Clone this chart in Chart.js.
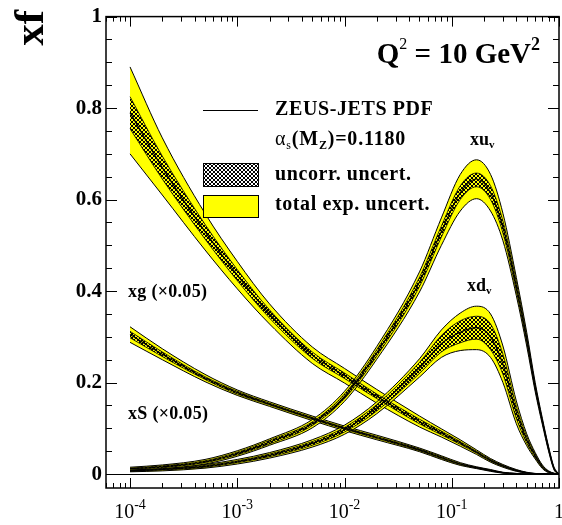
<!DOCTYPE html>
<html><head><meta charset="utf-8">
<script src="https://cdn.jsdelivr.net/npm/chart.js@4"></script>
<style>html,body{margin:0;padding:0;background:#fff;} canvas{display:block}</style>
</head><body>
<canvas id="c" width="562" height="525"></canvas>
<script>
// ---- data ----
const xValues = [1e-4, 2e-4, 5e-4, 1e-3, 2e-3, 5e-3, 0.01, 0.02, 0.05, 0.08, 0.12, 0.17, 0.23, 0.3, 0.4, 0.5, 0.6, 0.7, 0.8, 0.9, 1.0];

const xuvCentral = [0.012, 0.016, 0.027, 0.045, 0.07, 0.11, 0.17, 0.265, 0.42, 0.53, 0.615, 0.645, 0.615, 0.54, 0.41, 0.295, 0.19, 0.115, 0.055, 0.012, 0];
const xuvTotUp   = [0.015, 0.02, 0.032, 0.051, 0.077, 0.119, 0.181, 0.279, 0.442, 0.56, 0.655, 0.687, 0.655, 0.57, 0.43, 0.31, 0.2, 0.122, 0.06, 0.015, 0];
const xuvTotLo   = [0.009, 0.012, 0.022, 0.039, 0.063, 0.101, 0.159, 0.251, 0.398, 0.50, 0.575, 0.602, 0.575, 0.51, 0.39, 0.28, 0.18, 0.108, 0.05, 0.009, 0];
const xuvUncUp   = [0.013, 0.018, 0.029, 0.048, 0.074, 0.114, 0.175, 0.272, 0.43, 0.542, 0.63, 0.658, 0.63, 0.553, 0.42, 0.302, 0.195, 0.118, 0.058, 0.013, 0];
const xuvUncLo   = [0.011, 0.014, 0.025, 0.042, 0.066, 0.106, 0.165, 0.258, 0.41, 0.518, 0.6, 0.628, 0.6, 0.527, 0.4, 0.288, 0.185, 0.112, 0.052, 0.011, 0];

const xdvCentral = [0.007, 0.01, 0.017, 0.027, 0.041, 0.067, 0.097, 0.145, 0.232, 0.285, 0.31, 0.32, 0.30, 0.24, 0.135, 0.075, 0.04, 0.016, 0.005, 0.001, 0];
const xdvTotUp   = [0.009, 0.013, 0.021, 0.032, 0.047, 0.075, 0.107, 0.158, 0.252, 0.315, 0.352, 0.367, 0.35, 0.28, 0.16, 0.088, 0.047, 0.02, 0.007, 0.002, 0];
const xdvTotLo   = [0.005, 0.007, 0.013, 0.022, 0.035, 0.059, 0.087, 0.132, 0.212, 0.255, 0.27, 0.272, 0.255, 0.2, 0.11, 0.062, 0.033, 0.012, 0.003, 0, 0];
const xdvUncUp   = [0.008, 0.011, 0.019, 0.029, 0.044, 0.071, 0.102, 0.152, 0.244, 0.303, 0.335, 0.345, 0.328, 0.262, 0.148, 0.082, 0.044, 0.018, 0.006, 0.0015, 0];
const xdvUncLo   = [0.006, 0.009, 0.015, 0.025, 0.038, 0.063, 0.092, 0.138, 0.22, 0.267, 0.287, 0.295, 0.272, 0.218, 0.122, 0.068, 0.036, 0.014, 0.004, 0.0005, 0];

const xgCentral  = [0.79, 0.67, 0.53, 0.435, 0.35, 0.26, 0.215, 0.17, 0.115, 0.09, 0.068, 0.048, 0.03, 0.018, 0.008, 0.003, 0.001, 0, 0, 0, 0];
const xgTotUp    = [0.89, 0.735, 0.57, 0.465, 0.372, 0.278, 0.231, 0.185, 0.127, 0.099, 0.075, 0.053, 0.034, 0.021, 0.01, 0.004, 0.0015, 0, 0, 0, 0];
const xgTotLo    = [0.70, 0.61, 0.49, 0.405, 0.328, 0.242, 0.199, 0.155, 0.103, 0.081, 0.061, 0.043, 0.026, 0.015, 0.006, 0.002, 0.0005, 0, 0, 0, 0];
const xgUncUp    = [0.825, 0.695, 0.546, 0.447, 0.359, 0.267, 0.221, 0.175, 0.12, 0.094, 0.071, 0.05, 0.032, 0.019, 0.009, 0.0035, 0.001, 0, 0, 0, 0];
const xgUncLo    = [0.755, 0.645, 0.514, 0.423, 0.341, 0.253, 0.209, 0.165, 0.11, 0.086, 0.065, 0.046, 0.028, 0.017, 0.007, 0.0025, 0.001, 0, 0, 0, 0];

const xsCentral  = [0.305, 0.262, 0.21, 0.178, 0.153, 0.122, 0.10, 0.08, 0.053, 0.036, 0.022, 0.014, 0.008, 0.003, 0.001, 0, 0, 0, 0, 0, 0];
const xsTotUp    = [0.322, 0.274, 0.218, 0.184, 0.158, 0.127, 0.105, 0.085, 0.057, 0.04, 0.025, 0.016, 0.01, 0.004, 0.0015, 0, 0, 0, 0, 0, 0];
const xsTotLo    = [0.288, 0.25, 0.202, 0.172, 0.148, 0.117, 0.095, 0.075, 0.049, 0.032, 0.019, 0.012, 0.006, 0.002, 0.0005, 0, 0, 0, 0, 0, 0];
const xsUncUp    = [0.312, 0.267, 0.213, 0.181, 0.155, 0.124, 0.102, 0.082, 0.055, 0.038, 0.023, 0.015, 0.009, 0.0035, 0.001, 0, 0, 0, 0, 0, 0];
const xsUncLo    = [0.298, 0.257, 0.207, 0.175, 0.151, 0.12, 0.098, 0.078, 0.051, 0.034, 0.021, 0.013, 0.007, 0.0025, 0.001, 0, 0, 0, 0, 0, 0];

const yTickValues = [0, 0.2, 0.4, 0.6, 0.8, 1];
const yTickLabels = ['0', '0.2', '0.4', '0.6', '0.8', '1'];
const xTickValues = [1e-4, 1e-3, 1e-2, 1e-1, 1];
const xTickBase   = ['10', '10', '10', '10', '1'];
const xTickExp    = ['-4', '-3', '-2', '-1', ''];

// ---- styling ----
const SERIF = '"Liberation Serif", "Times New Roman", serif';
const YELLOW = '#ffff00';

const canvas = document.getElementById('c');
const mainCtx = canvas.getContext('2d');

function makePattern(bg) {
  const t = document.createElement('canvas');
  t.width = 4; t.height = 4;
  const g = t.getContext('2d');
  if (bg) { g.fillStyle = bg; g.fillRect(0, 0, 4, 4); }
  g.fillStyle = '#000';
  [[1,0],[2,0],[0,1],[3,1],[0,2],[3,2],[1,3],[2,3]].forEach(([x, y]) => g.fillRect(x, y, 1, 1));
  return mainCtx.createPattern(t, 'repeat');
}
const uncPattern = makePattern(null);
const legendPattern = makePattern('#ffffff');

const curves = [
  {c: xuvCentral, tu: xuvTotUp, tl: xuvTotLo, uu: xuvUncUp, ul: xuvUncLo},
  {c: xdvCentral, tu: xdvTotUp, tl: xdvTotLo, uu: xdvUncUp, ul: xdvUncLo},
  {c: xgCentral,  tu: xgTotUp,  tl: xgTotLo,  uu: xgUncUp,  ul: xgUncLo},
  {c: xsCentral,  tu: xsTotUp,  tl: xsTotLo,  uu: xsUncUp,  ul: xsUncLo}
];
function pts(arr) { return xValues.map((x, i) => ({x: x, y: arr[i]})); }
const datasets = [];
curves.forEach(cv => {
  const base = datasets.length;
  datasets.push({data: pts(cv.tu), borderColor: '#000', borderWidth: 1, fill: false, order: 3});
  datasets.push({data: pts(cv.tl), borderColor: '#000', borderWidth: 1, backgroundColor: YELLOW, fill: base, order: 3});
  datasets.push({data: pts(cv.uu), borderColor: '#000', borderWidth: 0.8, fill: false, order: 2});
  datasets.push({data: pts(cv.ul), borderColor: '#000', borderWidth: 0.8, backgroundColor: uncPattern, fill: base + 2, order: 2});
  datasets.push({data: pts(cv.c), borderColor: '#000', borderWidth: 1.2, fill: false, order: 1});
});

function setFont(ctx, p) {
  ctx.font = (p.w || 'bold') + ' ' + p.s + 'px ' + SERIF;
  if ('letterSpacing' in ctx) ctx.letterSpacing = (p.ls || 0) + 'px';
}
function drawRich(ctx, x, y, parts, align) {
  let total = 0;
  parts.forEach(p => {
    setFont(ctx, p);
    p.width = ctx.measureText(p.t).width;
    total += p.width;
  });
  let cx = x;
  if (align === 'center') cx = x - total / 2;
  else if (align === 'right') cx = x - total;
  ctx.textAlign = 'left';
  ctx.textBaseline = 'alphabetic';
  parts.forEach(p => {
    setFont(ctx, p);
    ctx.fillText(p.t, cx, y + (p.dy || 0));
    cx += p.width;
  });
  if ('letterSpacing' in ctx) ctx.letterSpacing = '0px';
}

const decorPlugin = {
  id: 'decor',
  beforeDatasetsDraw(chart) {
    const {ctx, chartArea: a, scales: {y}} = chart;
    ctx.save();
    ctx.strokeStyle = '#000';
    ctx.lineWidth = 1;
    const y0 = Math.round(y.getPixelForValue(0)) + 0.5;
    ctx.beginPath(); ctx.moveTo(a.left, y0); ctx.lineTo(a.right, y0); ctx.stroke();
    ctx.restore();
  },
  afterDraw(chart) {
    const {ctx, chartArea: a, scales: {x, y}} = chart;
    ctx.save();
    ctx.fillStyle = '#000';
    ctx.strokeStyle = '#000';
    // frame
    ctx.lineWidth = 1.5;
    ctx.strokeRect(a.left, a.top, a.right - a.left, a.bottom - a.top);
    // y ticks
    ctx.lineWidth = 1;
    ctx.beginPath();
    for (let k = 0; k <= 20; k++) {
      const v = k * 0.05;
      const py = Math.round(y.getPixelForValue(v)) + 0.5;
      const len = (k % 4 === 0) ? 11 : 6;
      ctx.moveTo(a.left, py); ctx.lineTo(a.left + len, py);
      ctx.moveTo(a.right, py); ctx.lineTo(a.right - len, py);
    }
    // x ticks
    for (let e = -5; e <= 0; e++) {
      for (let m = 1; m <= 9; m++) {
        const v = m * Math.pow(10, e);
        if (v < x.min || v > x.max) continue;
        const px = Math.round(x.getPixelForValue(v)) + 0.5;
        const len = (m === 1) ? 10 : 5;
        ctx.moveTo(px, a.bottom); ctx.lineTo(px, a.bottom - len);
        ctx.moveTo(px, a.top); ctx.lineTo(px, a.top + len);
      }
    }
    ctx.stroke();
    // x tick labels with superscripts
    xTickValues.forEach((v, i) => {
      const px = x.getPixelForValue(v);
      const parts = [{t: xTickBase[i], s: 20, w: 'normal'}];
      if (xTickExp[i]) parts.push({t: xTickExp[i], s: 14, w: 'normal', dy: -9});
      drawRich(ctx, px, 518, parts, 'center');
    });
    // y axis title "xf"
    ctx.save();
    ctx.translate(43, 10);
    ctx.rotate(-Math.PI / 2);
    ctx.font = 'bold 43px ' + SERIF;
    ctx.textAlign = 'right';
    ctx.textBaseline = 'alphabetic';
    ctx.fillText('xf', 0, 0);
    ctx.restore();
    // Q^2 label
    drawRich(ctx, 540, 63, [
      {t: 'Q', s: 29}, {t: '2', s: 16, w: 'normal', dy: -14},
      {t: ' = 10 GeV', s: 29}, {t: '2', s: 18, dy: -13}
    ], 'right');
    // legend
    ctx.lineWidth = 1.2;
    ctx.beginPath(); ctx.moveTo(203, 110.5); ctx.lineTo(258, 110.5); ctx.stroke();
    drawRich(ctx, 275, 115, [{t: 'ZEUS-JETS PDF', s: 20, ls: 0.6}]);
    drawRich(ctx, 275, 145, [
      {t: '\u03B1', s: 20, w: 'normal', ls: 0.8}, {t: 's', s: 12, w: 'normal', dy: 4, ls: 0.8},
      {t: '(M', s: 20, ls: 0.8}, {t: 'Z', s: 12, dy: 4, ls: 0.8}, {t: ')=0.1180', s: 20, ls: 0.8}
    ]);
    ctx.fillStyle = legendPattern;
    ctx.fillRect(203, 163, 55, 23);
    ctx.fillStyle = YELLOW;
    ctx.fillRect(203, 195, 55, 22);
    ctx.lineWidth = 1;
    ctx.strokeRect(203.5, 163.5, 55, 23);
    ctx.strokeRect(203.5, 195.5, 55, 22);
    ctx.fillStyle = '#000';
    drawRich(ctx, 275, 180, [{t: 'uncorr. uncert.', s: 20, ls: 0.6}]);
    drawRich(ctx, 275, 210, [{t: 'total exp. uncert.', s: 20, ls: 0.6}]);
    // curve labels
    drawRich(ctx, 470, 145, [{t: 'xu', s: 18}, {t: 'v', s: 11, dy: 3}]);
    drawRich(ctx, 467, 291, [{t: 'xd', s: 18}, {t: 'v', s: 11, dy: 3}]);
    drawRich(ctx, 128, 297, [{t: 'xg ', s: 18, ls: 0.3}, {t: '(\u00D70.05)', s: 18, ls: 0.3}]);
    drawRich(ctx, 128, 419, [{t: 'xS ', s: 18, ls: 0.3}, {t: '(\u00D70.05)', s: 18, ls: 0.3}]);
    ctx.restore();
  }
};

new Chart(canvas, {
  type: 'line',
  data: {datasets: datasets},
  options: {
    responsive: false,
    devicePixelRatio: 1,
    animation: false,
    events: [],
    layout: {padding: {left: 0, top: 14, right: 3, bottom: 0}},
    elements: {
      point: {radius: 0, hoverRadius: 0},
      line: {cubicInterpolationMode: 'monotone'}
    },
    plugins: {legend: {display: false}, tooltip: {enabled: false}, title: {display: false}},
    scales: {
      x: {
        type: 'logarithmic', min: 5.97e-5, max: 1,
        afterBuildTicks: s => { s.ticks = xTickValues.map(v => ({value: v})); },
        ticks: {display: false},
        grid: {display: false, drawTicks: false},
        border: {display: false},
        afterFit: s => { s.height = 37; }
      },
      y: {
        type: 'linear', min: -0.0304, max: 1,
        afterBuildTicks: s => { s.ticks = yTickValues.map(v => ({value: v})); },
        ticks: {
          callback: (v, i) => yTickLabels[i],
          font: {family: SERIF, size: 21, weight: 'bold'},
          color: '#000', padding: 4
        },
        grid: {display: false, drawTicks: false},
        border: {display: false},
        afterFit: s => { s.width = 106; }
      }
    }
  },
  plugins: [decorPlugin]
});
</script>
</body></html>
